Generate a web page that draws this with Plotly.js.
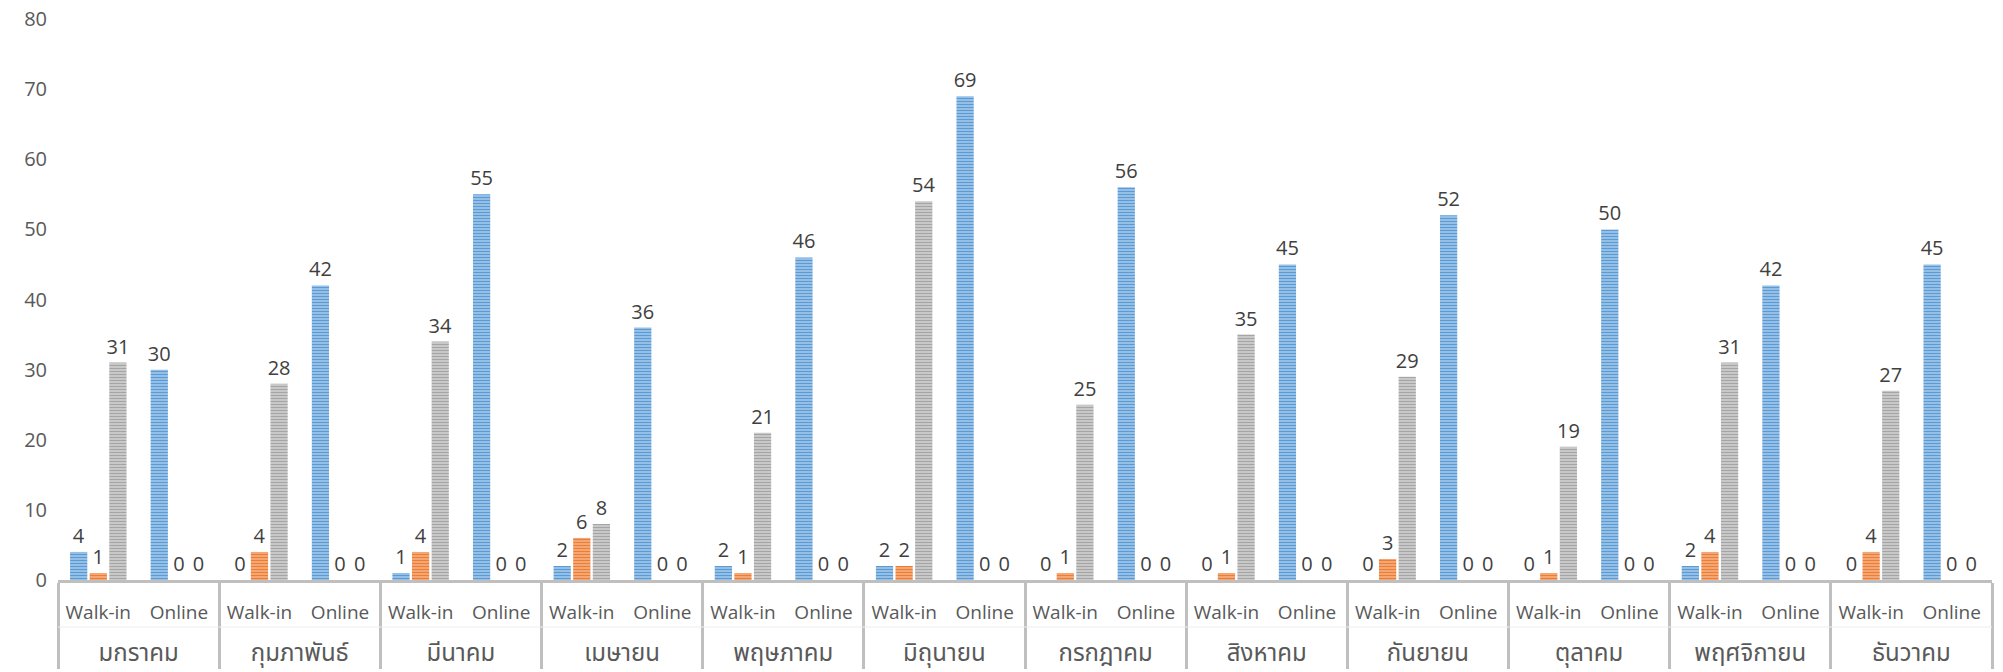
<!DOCTYPE html>
<html>
<head>
<meta charset="utf-8">
<script src="https://cdn.plot.ly/plotly-3.0.1.min.js"></script>
<style>html,body{margin:0;padding:0;background:#fff;}#chart{width:2003px;height:672px;}</style>
</head>
<body>
<div id="chart"></div>
<script>
const months = ["มกราคม","กุมภาพันธ์","มีนาคม","เมษายน","พฤษภาคม","มิถุนายน","กรกฎาคม","สิงหาคม","กันยายน","ตุลาคม","พฤศจิกายน","ธันวาคม"];
const channels = ["Walk-in","Online"];
// series values per month: [Walk-in, Online]
const blueWalkin   = [4,0,1,2,2,2,0,0,0,0,2,0];
const blueOnline   = [30,42,55,36,46,69,56,45,52,50,42,45];
const orangeWalkin = [1,4,4,6,1,2,1,1,3,1,4,4];
const orangeOnline = [0,0,0,0,0,0,0,0,0,0,0,0];
const grayWalkin   = [31,28,34,8,21,54,25,35,29,19,31,27];
const grayOnline   = [0,0,0,0,0,0,0,0,0,0,0,0];
const yTicks = [0,10,20,30,40,50,60,70,80];

const outer = [], inner = [];
// a blank second line under each inner label opens the space between the two label rows
months.forEach(m => channels.forEach(c => {
  outer.push('<span style="font-size:24px">' + m + '</span>');
  inner.push(c + '<br><span style="font-size:28px"> </span>');
}));
function interleave(a, b){ const r=[]; a.forEach((v,i)=>{ r.push(v); r.push(b[i]); }); return r; }

const font = "'Open Sans', 'Noto Sans', 'Noto Sans Thai', sans-serif";
function mk(vals, fg, bg){
  return {
    type: 'bar',
    x: [outer, inner],
    y: vals,
    text: vals.map(String),
    textposition: 'outside',
    constraintext: 'none',
    cliponaxis: false,
    textfont: {family: font, size: 20, color: '#404040'},
    marker: {
      color: bg,
      line: {width: 0},
      pattern: {shape: '-', fgcolor: fg, bgcolor: bg, size: 3, solidity: 0.5}
    },
    hoverinfo: 'none'
  };
}
const data = [
  mk(interleave(blueWalkin, blueOnline), '#5B9BD5', '#A9CBEB'),
  mk(interleave(orangeWalkin, orangeOnline), '#ED7D31', '#F6B58C'),
  mk(interleave(grayWalkin, grayOnline), '#A5A5A5', '#D4D4D4')
];
const layout = {
  width: 2003, height: 672,
  margin: {l: 58, r: 11, t: 19, b: 92},
  paper_bgcolor: '#fff', plot_bgcolor: '#fff',
  showlegend: false,
  barmode: 'group',
  bargap: 0.27,
  bargroupgap: 0.12,
  font: {family: font, color: '#595959'},
  xaxis: {
    type: 'multicategory',
    showline: true, linecolor: '#BFBFBF', linewidth: 3,
    showdividers: true, dividercolor: '#BFBFBF', dividerwidth: 3,
    ticks: '', tickangle: 0,
    tickfont: {family: font, size: 19, color: '#595959'},
    ticklabelstandoff: 13,
    showgrid: false, zeroline: false
  },
  yaxis: {
    range: [0, 80], tickvals: yTicks, ticktext: yTicks.map(String),
    showgrid: false, zeroline: false, showline: false, ticks: '',
    tickfont: {family: font, size: 20, color: '#595959'},
    ticklabelstandoff: 10
  },
  shapes: [{
    type: 'line', xref: 'paper', yref: 'paper',
    x0: 0, x1: 1, y0: -0.0838, y1: -0.0838,
    line: {color: '#EDEDED', width: 1}
  }]
};
Plotly.newPlot('chart', data, layout, {displayModeBar: false, staticPlot: true});
</script>
</body>
</html>
